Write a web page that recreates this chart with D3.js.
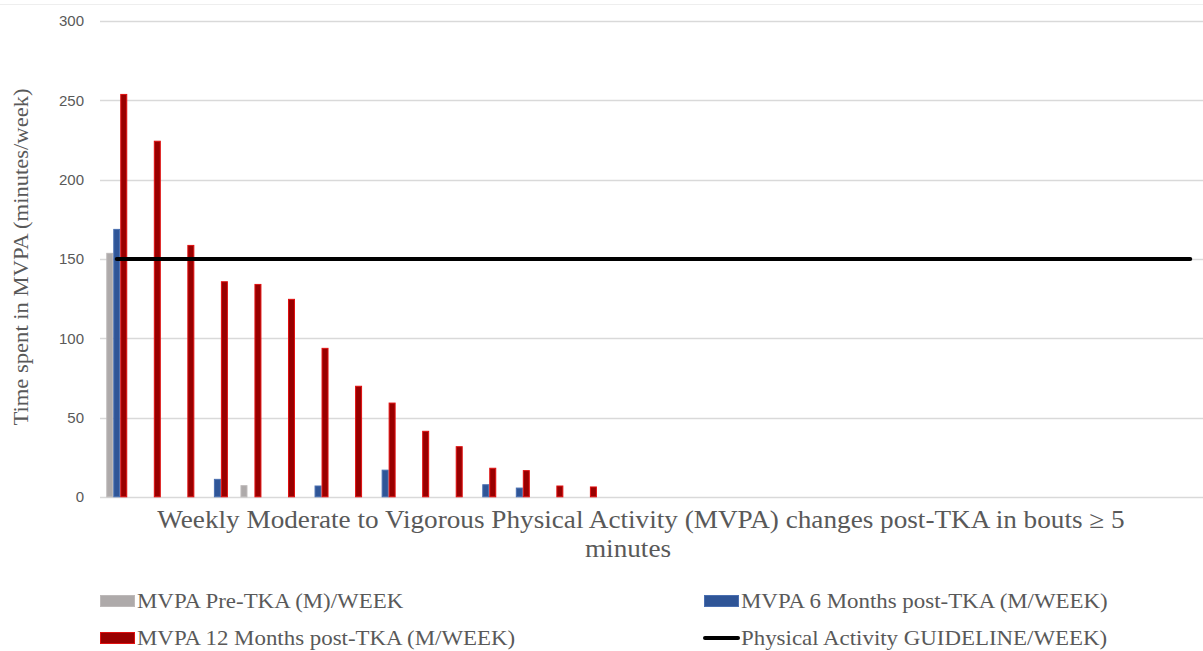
<!DOCTYPE html>
<html>
<head>
<meta charset="utf-8">
<script src="https://cdn.jsdelivr.net/npm/d3@7"></script>
<style>
  body { margin: 0; background: #fff; }
  svg { display: block; }
</style>
</head>
<body>
<div id="chart"></div>
<script>
// Data (minutes/week), one entry per participant group
const groups = d3.range(1, 34).map(String);
const seriesNames = ["pre", "m6", "m12"];
const preTKA  = [153.5, 0, 0, 0, 7, 0, 0, 0, 0, 0, 0, 0, 0, 0, 0];
const month6  = [168.6, 0, 0, 11, 0, 0, 6.8, 0, 16.8, 0, 0, 7.6, 5.5, 0, 0];
const month12 = [253.7, 224.2, 158.5, 135.6, 133.9, 124.5, 93.6, 69.7, 59.1, 41.3, 31.6, 18, 16.5, 6.8, 6.2];
const guideline = 150;
const yTicks = [0, 50, 100, 150, 200, 250, 300];
const titleLines = [
    "Weekly Moderate to Vigorous Physical Activity (MVPA) changes post-TKA in bouts \u2265 5",
    "minutes"
];
const legendLabels = [
    "MVPA Pre-TKA (M)/WEEK",
    "MVPA 6 Months post-TKA (M/WEEK)",
    "MVPA 12 Months post-TKA (M/WEEK)",
    "Physical Activity GUIDELINE/WEEK)"
];

const viewW = 1203;
const viewH = 651;
const serif = "'Liberation Serif', 'Times New Roman', serif";

const colors = { pre: "#aeaaaa", m6: "#2f5597", m12: "#990000" };
const strokes = { pre: "#bdb9b9", m6: "#4a6fb0", m12: "#e01010" };

const rows = groups.map((g, i) => ({
    group: g,
    pre: preTKA[i] || 0,
    m6: month6[i] || 0,
    m12: month12[i] || 0
}));

// the source font is a bit wider than Liberation Serif, so stretch text horizontally
function stretch(sel, factor) {
    sel.each(function () {
        const len = this.getComputedTextLength();
        d3.select(this)
            .attr("textLength", len * factor)
            .attr("lengthAdjust", "spacingAndGlyphs");
    });
}

const svg = d3.select("#chart")
    .append("svg")
    .attr("width", viewW)
    .attr("height", viewH);

// faint chart border at the top
svg.append("line")
    .attr("x1", 0).attr("x2", viewW)
    .attr("y1", 4.5).attr("y2", 4.5)
    .attr("stroke", "#eeeeee");

// Scales
const x0 = d3.scaleBand()
    .domain(groups)
    .range([100, 1207])
    .paddingInner(0.375)
    .paddingOuter(0.1875);

const x1 = d3.scaleBand()
    .domain(seriesNames)
    .range([0, x0.bandwidth()]);

const y = d3.scaleLinear()
    .domain([0, 300])
    .range([496.8, 21]);

// Gridlines
svg.append("g")
    .selectAll("line")
    .data(yTicks)
    .join("line")
    .attr("x1", 100)
    .attr("x2", viewW)
    .attr("y1", d => Math.round(y(d)) + 0.5)
    .attr("y2", d => Math.round(y(d)) + 0.5)
    .attr("stroke", "#d9d9d9")
    .attr("stroke-width", 1.3);

// Y axis tick labels
const yAxis = svg.append("g")
    .attr("transform", "translate(100,0)")
    .call(d3.axisLeft(y).tickValues(yTicks).tickSize(0).tickPadding(16));
yAxis.select(".domain").remove();
yAxis.selectAll("text")
    .style("font-family", "'Liberation Sans', Arial, sans-serif")
    .style("font-size", "15px")
    .attr("fill", "#595959");

// Bars
const groupSel = svg.append("g")
    .selectAll("g")
    .data(rows)
    .join("g")
    .attr("transform", d => `translate(${x0(d.group)},0)`);

groupSel.selectAll("rect")
    .data(d => seriesNames.map(k => ({ key: k, value: d[k] })).filter(e => e.value > 0))
    .join("rect")
    .attr("x", d => x1(d.key) + 0.5)
    .attr("y", d => y(d.value))
    .attr("width", x1.bandwidth() - 1)
    .attr("height", d => y(0) - y(d.value))
    .attr("fill", d => colors[d.key])
    .attr("stroke", d => strokes[d.key])
    .attr("stroke-width", 1);

// Guideline
svg.append("line")
    .attr("x1", x0(groups[0]) + x0.bandwidth() / 2)
    .attr("x2", x0(groups[groups.length - 1]) + x0.bandwidth() / 2)
    .attr("y1", y(guideline))
    .attr("y2", y(guideline))
    .attr("stroke", "#000")
    .attr("stroke-width", 4)
    .attr("stroke-linecap", "round");

// Y axis label
svg.append("text")
    .attr("transform", "rotate(-90)")
    .attr("x", -257)
    .attr("y", 28)
    .attr("text-anchor", "middle")
    .style("font-family", serif)
    .style("font-size", "21.5px")
    .attr("fill", "#595959")
    .text("Time spent in MVPA (minutes/week)")
    .call(stretch, 1.05);

// X axis title (two lines)
svg.append("g")
    .selectAll("text")
    .data(titleLines)
    .join("text")
    .attr("x", (d, i) => i === 0 ? 641 : 628)
    .attr("y", (d, i) => 528 + i * 29)
    .attr("text-anchor", "middle")
    .style("font-family", serif)
    .style("font-size", "24.5px")
    .attr("fill", "#595959")
    .text(d => d)
    .call(stretch, 1.11);

// Legend
const legendItems = [
    { label: legendLabels[0], key: "pre", x: 100, y: 601 },
    { label: legendLabels[1], key: "m6", x: 704, y: 601 },
    { label: legendLabels[2], key: "m12", x: 100, y: 638 },
    { label: legendLabels[3], key: "line", x: 704, y: 638 }
];

const legend = svg.append("g")
    .selectAll("g")
    .data(legendItems)
    .join("g")
    .attr("transform", d => `translate(${d.x},${d.y})`);

legend.filter(d => d.key !== "line")
    .append("rect")
    .attr("x", 0.5)
    .attr("y", -5.5)
    .attr("width", 34)
    .attr("height", 11)
    .attr("fill", d => colors[d.key])
    .attr("stroke", d => strokes[d.key]);

legend.filter(d => d.key === "line")
    .append("line")
    .attr("x1", 1).attr("x2", 34)
    .attr("y1", 0).attr("y2", 0)
    .attr("stroke", "#000")
    .attr("stroke-width", 4)
    .attr("stroke-linecap", "round");

legend.append("text")
    .attr("x", 37)
    .attr("y", 7)
    .style("font-family", serif)
    .style("font-size", "21px")
    .attr("fill", "#595959")
    .text(d => d.label)
    .call(stretch, 1.09);
</script>
</body>
</html>
